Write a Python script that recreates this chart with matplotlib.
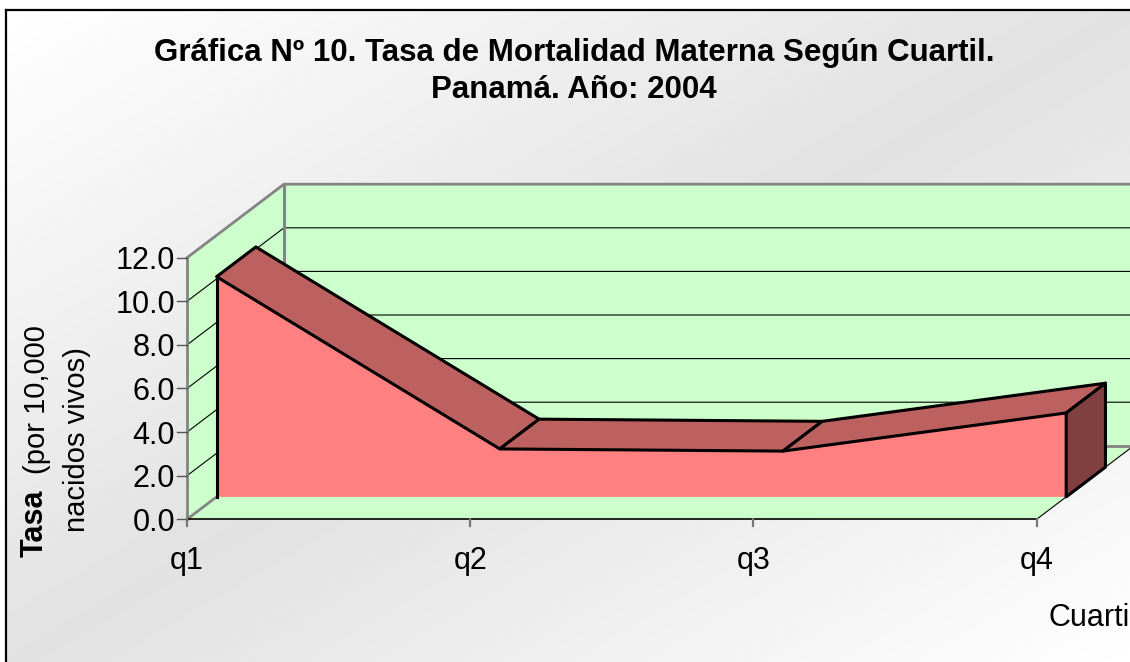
import numpy as np
import matplotlib
matplotlib.use("Agg")
import matplotlib.pyplot as plt
from matplotlib.patches import Polygon

plt.rcParams["font.family"] = ["Liberation Sans", "DejaVu Sans"]

quartiles = ["q1", "q2", "q3", "q4"]
tasa = [10.1, 2.2, 2.1, 3.85]
y_ticks = [0, 2, 4, 6, 8, 10, 12]

# pixel layout of the fake 3d box
X0, Y0 = 187, 519.3
X_STEP = 283.2
Y_UNIT = 21.8
DX, DY = 97, -73.5
FRONT, BACK = 0.305, 0.71


def px(i, v=0, d=0):
    return X0 + i * X_STEP + d * DX, Y0 - v * Y_UNIT + d * DY


fig = plt.figure(figsize=(11.3, 6.62), dpi=100)
ax = fig.add_axes([0, 0, 1, 1])
ax.set_xlim(0, 1130)
ax.set_ylim(662, 0)
ax.axis("off")

# background gradient: white corners top-left / bottom-right
xx, yy = np.meshgrid(np.linspace(0, 1, 300), np.linspace(0, 1, 300))
t = 1 - np.abs((xx + yy) - 1)
ax.imshow(1 - t * 0.115, cmap="gray", vmin=0, vmax=1, extent=[6, 1134, 668, 10],
          aspect="auto", zorder=0)
ax.plot([6, 6], [668, 10], color="black", lw=1.6, zorder=1)
ax.plot([6, 1134], [10, 10], color="black", lw=1.6, zorder=1)
ax.set_xlim(0, 1130)
ax.set_ylim(662, 0)

green = "#CCFFCC"
grey = "#848484"
n = len(quartiles) - 1

# walls and floor
ax.add_patch(Polygon([px(0, 12, 1), px(n + 0.1, 12, 1), px(n + 0.1, 0, 1), px(0, 0, 1)], fc=green, ec="none", zorder=2))
ax.add_patch(Polygon([px(0, 0), px(0, 12), px(0, 12, 1), px(0, 0, 1)], fc=green, ec="none", zorder=2))
ax.add_patch(Polygon([px(0, 0), px(n, 0), px(n, 0, 1), px(n + 0.1, 0, 1), px(0, 0, 1)], fc=green, ec="none", zorder=2))

# gridlines
for v in y_ticks[1:-1]:
    x, y = zip(px(0, v), px(0, v, 1), px(n + 0.1, v, 1))
    ax.plot(x, y, color="black", lw=0.8, zorder=3)

# wall edges
x, y = zip(px(0, 0, 1), px(0, 12, 1))
ax.plot(x, y, color=grey, lw=2.2, zorder=3)
x, y = zip(px(0, 12), px(0, 12, 1), px(n + 0.1, 12, 1))
ax.plot(x, y, color=grey, lw=2.0, zorder=3)
x, y = zip(px(0, 0, 1), px(n + 0.1, 0, 1))
ax.plot(x, y, color=grey, lw=2.0, zorder=3)
x, y = zip(px(0, 0), px(0, 0, FRONT))
ax.plot(x, y, color=grey, lw=2.0, zorder=3)
x, y = zip(px(0, 0), px(0, 12))
ax.plot(x, y, color=grey, lw=2.0, zorder=4)
x, y = zip(px(0, 0), px(n, 0))
ax.plot(x, y, color="black", lw=1.2, zorder=4)
x, y = zip(px(n, 0), px(n, 0, 1))
ax.plot(x, y, color="black", lw=0.8, zorder=4)

# ticks and labels
for v in y_ticks:
    x, y = px(0, v)
    ax.plot([x - 10, x], [y, y], color="#555555", lw=1.0, zorder=4)
    ax.text(x - 12, y, f"{v:.1f}", ha="right", va="center_baseline", fontsize=22, zorder=6)
for i, q in enumerate(quartiles):
    x, y = px(i, 0)
    ax.plot([x, x], [y, y + 7], color="#777777", lw=1.6, zorder=4)
    ax.text(x, y + 38, q, ha="center", va="center_baseline", fontsize=22, zorder=6)

# area top faces, back to front
edge = dict(ec="black", lw=2.2, joinstyle="round")
ax.add_patch(Polygon([px(i, tasa[i], FRONT) for i in range(4)] + [px(3, 0, FRONT), px(0, 0, FRONT)],
                     fc="#FF8080", ec="none", zorder=5))
for i in range(3):
    quad = [px(i, tasa[i], FRONT), px(i + 1, tasa[i + 1], FRONT), px(i + 1, tasa[i + 1], BACK), px(i, tasa[i], BACK)]
    ax.add_patch(Polygon(quad, fc="#BD6060", zorder=5, **edge))
side = [px(3, tasa[3], FRONT), px(3, tasa[3], BACK), px(3, 0, BACK), px(3, 0, FRONT)]
ax.add_patch(Polygon(side, fc="#804040", zorder=5, **edge))
x, y = zip(px(0, 0, FRONT), px(0, tasa[0], FRONT))
ax.plot(x, y, color="black", lw=2.2, zorder=5)

# titles
ax.text(574, 53, "Gráfica Nº 10. Tasa de Mortalidad Materna Según Cuartil.", ha="center", va="center",
        fontsize=22.5, fontweight="bold", zorder=6)
ax.text(574, 90, "Panamá. Año: 2004", ha="center", va="center", fontsize=22.5, fontweight="bold", zorder=6)
ax.text(35, 557, "Tasa", rotation=90, ha="center", va="bottom", fontsize=22, fontweight="bold", zorder=6)
ax.text(37, 474, "(por 10,000", rotation=90, ha="center", va="bottom", fontsize=21, zorder=6)
ax.text(77, 532, "nacidos vivos)", rotation=90, ha="center", va="bottom", fontsize=21, zorder=6)
# runs past the right edge, cut off the same way as in the original
ax.text(1048, 614, "Cuartil", ha="left", va="center_baseline", fontsize=22, zorder=6)

fig.savefig("out.png", dpi=100)
